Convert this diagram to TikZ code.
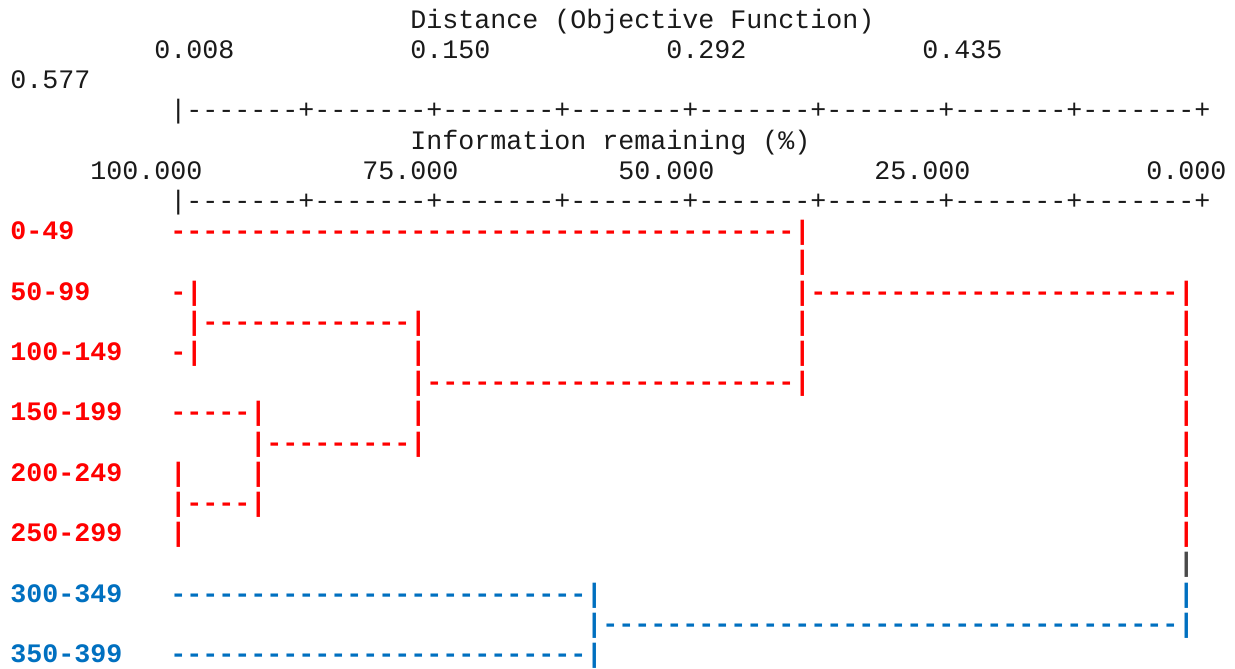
\documentclass[tikz,border=0pt]{standalone}
\usepackage{fontspec}
\newfontfamily\mono{Liberation Mono}
\definecolor{dred}{HTML}{FF0000}
\definecolor{dblue}{HTML}{0070C0}
\definecolor{hdr}{HTML}{1A1A1A}
\definecolor{gpipe}{HTML}{4A4A4A}
\ExplSyntaxOn
\NewDocumentCommand\rep{mm}{\prg_replicate:nn{#1}{\hbox{#2}}}
\ExplSyntaxOff
\newcommand\tx[5]{\node[txt,#4] (#1) at ({10.3pt+16pt*#2},{-28.2pt-30.2pt*#3}) {#5};}
\newcommand\ruler{\hbox{|}\rep{8}{\rep{7}{-}\hbox{+}}}
\tikzset{
  txt/.style={anchor=base west,inner sep=0pt,outer sep=0pt},
  hd/.style={text=hdr,font=\mono\fontsize{26.667pt}{30pt}\selectfont},
  rd/.style={text=dred,font=\mono\bfseries\fontsize{26.667pt}{30pt}\selectfont},
  bl/.style={text=dblue,font=\mono\bfseries\fontsize{26.667pt}{30pt}\selectfont},
  gp/.style={text=gpipe,font=\mono\bfseries\fontsize{26.667pt}{30pt}\selectfont}
}
\begin{document}
\begin{tikzpicture}
\useasboundingbox[fill=white] (0,0) rectangle (1235pt,-669pt);
% header
\tx{title1}{25}{0}{hd}{Distance (Objective Function)}
\tx{d1}{9}{1}{hd}{0.008}
\tx{d2}{25}{1}{hd}{0.150}
\tx{d3}{41}{1}{hd}{0.292}
\tx{d4}{57}{1}{hd}{0.435}
\tx{d5}{0}{2}{hd}{0.577}
\tx{ruler1}{10}{3}{hd}{\ruler}
\tx{title2}{25}{4}{hd}{Information remaining (\%)}
\tx{p1}{5}{5}{hd}{100.000}
\tx{p2}{22}{5}{hd}{75.000}
\tx{p3}{38}{5}{hd}{50.000}
\tx{p4}{54}{5}{hd}{25.000}
\tx{p5}{71}{5}{hd}{0.000}
\tx{ruler2}{10}{6}{hd}{\ruler}
% line 7
\tx{lab1}{0}{7}{rd}{0-49}
\tx{h7a}{10}{7}{rd}{\rep{39}{-}}
\tx{v7a}{49}{7}{rd}{|}
% line 8
\tx{v8a}{49}{8}{rd}{|}
% line 9
\tx{lab2}{0}{9}{rd}{50-99}
\tx{h9a}{10}{9}{rd}{\rep{1}{-}}
\tx{v9a}{11}{9}{rd}{|}
\tx{v9b}{49}{9}{rd}{|}
\tx{h9b}{50}{9}{rd}{\rep{23}{-}}
\tx{v9c}{73}{9}{rd}{|}
% line 10
\tx{v10a}{11}{10}{rd}{|}
\tx{h10a}{12}{10}{rd}{\rep{13}{-}}
\tx{v10b}{25}{10}{rd}{|}
\tx{v10c}{49}{10}{rd}{|}
\tx{v10d}{73}{10}{rd}{|}
% line 11
\tx{lab3}{0}{11}{rd}{100-149}
\tx{h11a}{10}{11}{rd}{\rep{1}{-}}
\tx{v11a}{11}{11}{rd}{|}
\tx{v11b}{25}{11}{rd}{|}
\tx{v11c}{49}{11}{rd}{|}
\tx{v11d}{73}{11}{rd}{|}
% line 12
\tx{v12a}{25}{12}{rd}{|}
\tx{h12a}{26}{12}{rd}{\rep{23}{-}}
\tx{v12b}{49}{12}{rd}{|}
\tx{v12c}{73}{12}{rd}{|}
% line 13
\tx{lab4}{0}{13}{rd}{150-199}
\tx{h13a}{10}{13}{rd}{\rep{5}{-}}
\tx{v13a}{15}{13}{rd}{|}
\tx{v13b}{25}{13}{rd}{|}
\tx{v13c}{73}{13}{rd}{|}
% line 14
\tx{v14a}{15}{14}{rd}{|}
\tx{h14a}{16}{14}{rd}{\rep{9}{-}}
\tx{v14b}{25}{14}{rd}{|}
\tx{v14c}{73}{14}{rd}{|}
% line 15
\tx{lab5}{0}{15}{rd}{200-249}
\tx{v15a}{10}{15}{rd}{|}
\tx{v15b}{15}{15}{rd}{|}
\tx{v15c}{73}{15}{rd}{|}
% line 16
\tx{v16a}{10}{16}{rd}{|}
\tx{h16a}{11}{16}{rd}{\rep{4}{-}}
\tx{v16b}{15}{16}{rd}{|}
\tx{v16c}{73}{16}{rd}{|}
% line 17
\tx{lab6}{0}{17}{rd}{250-299}
\tx{v17a}{10}{17}{rd}{|}
\tx{v17b}{73}{17}{rd}{|}
% line 18
\tx{v18a}{73}{18}{gp}{|}
% line 19
\tx{lab7}{0}{19}{bl}{300-349}
\tx{h19a}{10}{19}{bl}{\rep{26}{-}}
\tx{v19a}{36}{19}{bl}{|}
\tx{v19b}{73}{19}{bl}{|}
% line 20
\tx{v20a}{36}{20}{bl}{|}
\tx{h20a}{37}{20}{bl}{\rep{36}{-}}
\tx{v20b}{73}{20}{bl}{|}
% line 21
\tx{lab8}{0}{21}{bl}{350-399}
\tx{h21a}{10}{21}{bl}{\rep{26}{-}}
\tx{v21a}{36}{21}{bl}{|}
\end{tikzpicture}
\end{document}
